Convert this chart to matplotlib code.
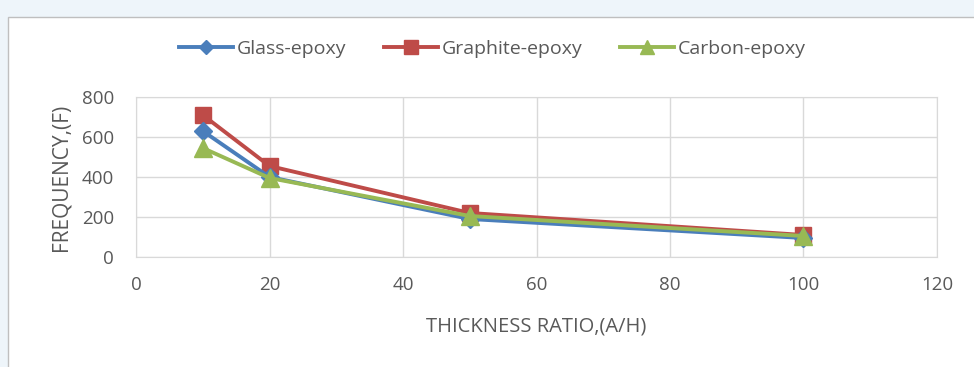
import matplotlib
matplotlib.use("Agg")
import matplotlib.pyplot as plt
from matplotlib.patches import Rectangle

thickness_ratio = [10, 20, 50, 100]
glass_epoxy = [630, 400, 190, 95]
graphite_epoxy = [710, 455, 220, 110]
carbon_epoxy = [545, 395, 205, 105]

x_ticks = [0, 20, 40, 60, 80, 100, 120]
y_ticks = [0, 200, 400, 600, 800]

TEXT = "#595959"
GRID = "#d9d9d9"

plt.rcParams["font.family"] = ["Open Sans", "DejaVu Sans"]

fig = plt.figure(figsize=(9.74, 3.67), dpi=100)
fig.patch.set_facecolor("#eef5fa")

# white chart panel with thin border, kept behind the axes
panel = Rectangle((8 / 974, -0.02), 1.0, 1 - 17 / 367 + 0.02,
                  transform=fig.transFigure, facecolor="white",
                  edgecolor="#bfbfbf", lw=1.0, zorder=-10)
fig.patches.append(panel)

ax = fig.add_axes([136 / 974, 1 - 257 / 367, (937 - 136) / 974, (257 - 97) / 367])
ax.set_facecolor("white")

ax.plot(thickness_ratio, glass_epoxy, color="#4a7ebb", lw=2.8, marker="D",
        ms=9, label="Glass-epoxy", zorder=3)
ax.plot(thickness_ratio, graphite_epoxy, color="#be4b48", lw=2.8, marker="s",
        ms=12, label="Graphite-epoxy", zorder=2)
ax.plot(thickness_ratio, carbon_epoxy, color="#98b954", lw=2.8, marker="^",
        ms=13, label="Carbon-epoxy", zorder=4)

ax.set_xlim(0, 120)
ax.set_ylim(0, 800)
ax.set_xticks(x_ticks)
ax.set_yticks(y_ticks)
ax.grid(True, color=GRID, lw=1.0)
ax.set_axisbelow(True)
for s in ax.spines.values():
    s.set_color(GRID)
ax.tick_params(length=0, colors=TEXT, labelsize=13.5)
ax.tick_params(axis="x", pad=14)
ax.tick_params(axis="y", pad=16)

ax.set_xlabel("THICKNESS RATIO,(A/H)", color=TEXT, fontsize=14.5, labelpad=16)
ax.set_ylabel("FREQUENCY,(F)", color=TEXT, fontsize=15, labelpad=7)

ax.legend(loc="center", bbox_to_anchor=(0.445, 1.30), ncol=3, frameon=False,
          fontsize=14, labelcolor=TEXT, handlelength=2.8, handletextpad=0.2,
          columnspacing=1.9, markerscale=0.8)

fig.savefig("out.png", dpi=100, facecolor=fig.get_facecolor())
